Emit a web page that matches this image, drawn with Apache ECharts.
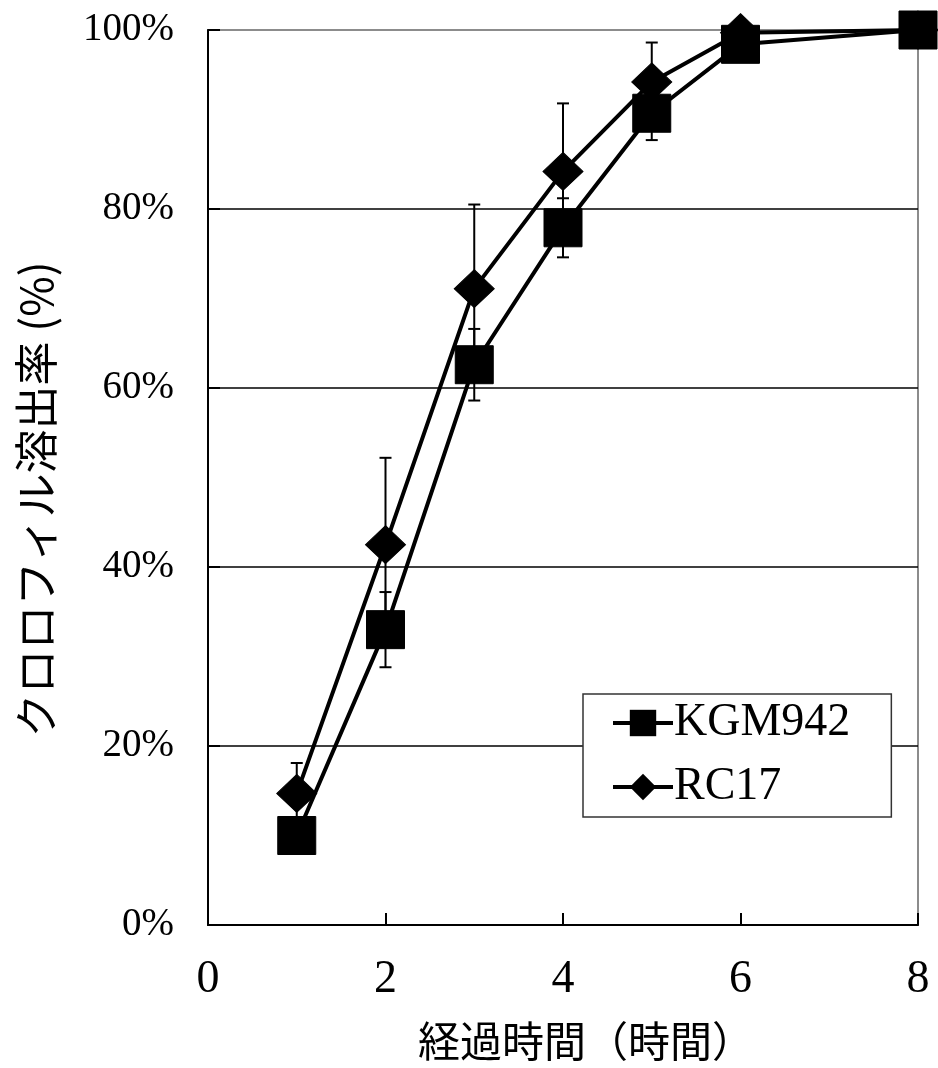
<!DOCTYPE html>
<html>
<head>
<meta charset="utf-8">
<script src="https://cdn.jsdelivr.net/npm/echarts@6/dist/echarts.min.js"></script>
<style>
html,body{margin:0;padding:0;background:#fff;}
#chart{width:938px;height:1068px;}
</style>
</head>
<body>
<div id="chart"></div>
<script>
// Data
var hours = [1, 2, 3, 4, 5, 6, 8];
var kgmValues = [10.0, 33.0, 62.6, 77.9, 90.7, 98.4, 100];
var kgmErrors = [1.5, 4.2, 4.0, 3.3, 3.0, 1.0, 0];
var rcValues = [14.7, 42.5, 71.1, 84.2, 94.2, 99.7, 100];
var rcErrors = [3.4, 9.7, 9.4, 7.6, 4.4, 0.5, 0];
var seriesNames = ['KGM942', 'RC17'];
var xAxisTitle = '経過時間（時間）';
var yAxisTitle = 'クロロフィル溶出率 (%)';

function pairs(xs, ys) { return xs.map(function (x, i) { return [x, ys[i]]; }); }
function errData(xs, ys, es) { return xs.map(function (x, i) { return [x, ys[i] - es[i], ys[i] + es[i]]; }); }

function renderErr(params, api) {
  var x = api.value(0);
  var lo = api.coord([x, api.value(1)]);
  var hi = api.coord([x, api.value(2)]);
  var hw = 6;
  var style = { stroke: '#000', lineWidth: 2 };
  return {
    type: 'group',
    children: [
      { type: 'line', shape: { x1: lo[0], y1: lo[1], x2: hi[0], y2: hi[1] }, style: style },
      { type: 'line', shape: { x1: lo[0] - hw, y1: lo[1], x2: lo[0] + hw, y2: lo[1] }, style: style },
      { type: 'line', shape: { x1: hi[0] - hw, y1: hi[1], x2: hi[0] + hw, y2: hi[1] }, style: style }
    ]
  };
}

var serif = '"Liberation Serif", "Times New Roman", serif';
var cjk = '"Noto Sans CJK JP", sans-serif';

var chart = echarts.init(document.getElementById('chart'), null, { renderer: 'canvas' });
chart.setOption({
  animation: false,
  backgroundColor: '#fff',
  grid: { left: 208, right: 20, top: 30, bottom: 143, show: true, borderColor: '#8c8c8c', borderWidth: 2, backgroundColor: 'transparent' },
  legend: {
    data: seriesNames,
    orient: 'vertical',
    left: 583,
    top: 694,
    padding: [6, 41, 7, 28],
    itemGap: 18,
    itemWidth: 60,
    itemHeight: 33,
    backgroundColor: '#fff',
    borderColor: '#333',
    borderWidth: 1.5,
    lineStyle: { width: 4, color: '#000' },
    textStyle: { fontFamily: serif, fontSize: 46, color: '#000', padding: [0, 0, 0, -4] }
  },
  xAxis: {
    type: 'value',
    min: 0, max: 8, interval: 2,
    name: xAxisTitle,
    nameLocation: 'middle',
    nameGap: 95,
    nameTextStyle: { fontFamily: cjk, fontSize: 42, color: '#000', padding: [0, 0, 0, 46] },
    axisLine: { show: true, lineStyle: { color: '#000', width: 2 } },
    axisTick: { show: true, inside: true, length: 12, lineStyle: { color: '#000', width: 2 } },
    axisLabel: { fontFamily: serif, fontSize: 46, color: '#000', margin: 32 },
    splitLine: { show: false }
  },
  yAxis: {
    type: 'value',
    min: 0, max: 100, interval: 20,
    name: yAxisTitle,
    nameLocation: 'middle',
    nameRotate: 90,
    nameGap: 150,
    nameTextStyle: { fontFamily: cjk, fontSize: 44, color: '#000', padding: [0, 44, 0, 0] },
    axisLine: { show: true, lineStyle: { color: '#000', width: 2 } },
    axisTick: { show: true, inside: true, length: 12, lineStyle: { color: '#000', width: 2 } },
    axisLabel: { fontFamily: serif, fontSize: 39, color: '#000', margin: 34, formatter: '{value}%' },
    splitLine: { show: true, lineStyle: { color: ['#000', '#000', '#000', '#000', '#000', '#8c8c8c'], width: 1.5 } }
  },
  series: [
    {
      name: 'KGM942 err', type: 'custom', renderItem: renderErr, z: 1,
      data: errData(hours, kgmValues, kgmErrors), silent: true
    },
    {
      name: 'RC17 err', type: 'custom', renderItem: renderErr, z: 1,
      data: errData(hours, rcValues, rcErrors), silent: true
    },
    {
      name: seriesNames[0], type: 'line', data: pairs(hours, kgmValues), z: 3,
      symbol: 'rect', symbolSize: 38,
      lineStyle: { color: '#000', width: 4 },
      itemStyle: { color: '#000', borderColor: '#000' }
    },
    {
      name: seriesNames[1], type: 'line', data: pairs(hours, rcValues), z: 4,
      symbol: 'diamond', symbolSize: [40, 38],
      lineStyle: { color: '#000', width: 4 },
      itemStyle: { color: '#000', borderColor: '#000' }
    }
  ]
});
</script>
</body>
</html>
